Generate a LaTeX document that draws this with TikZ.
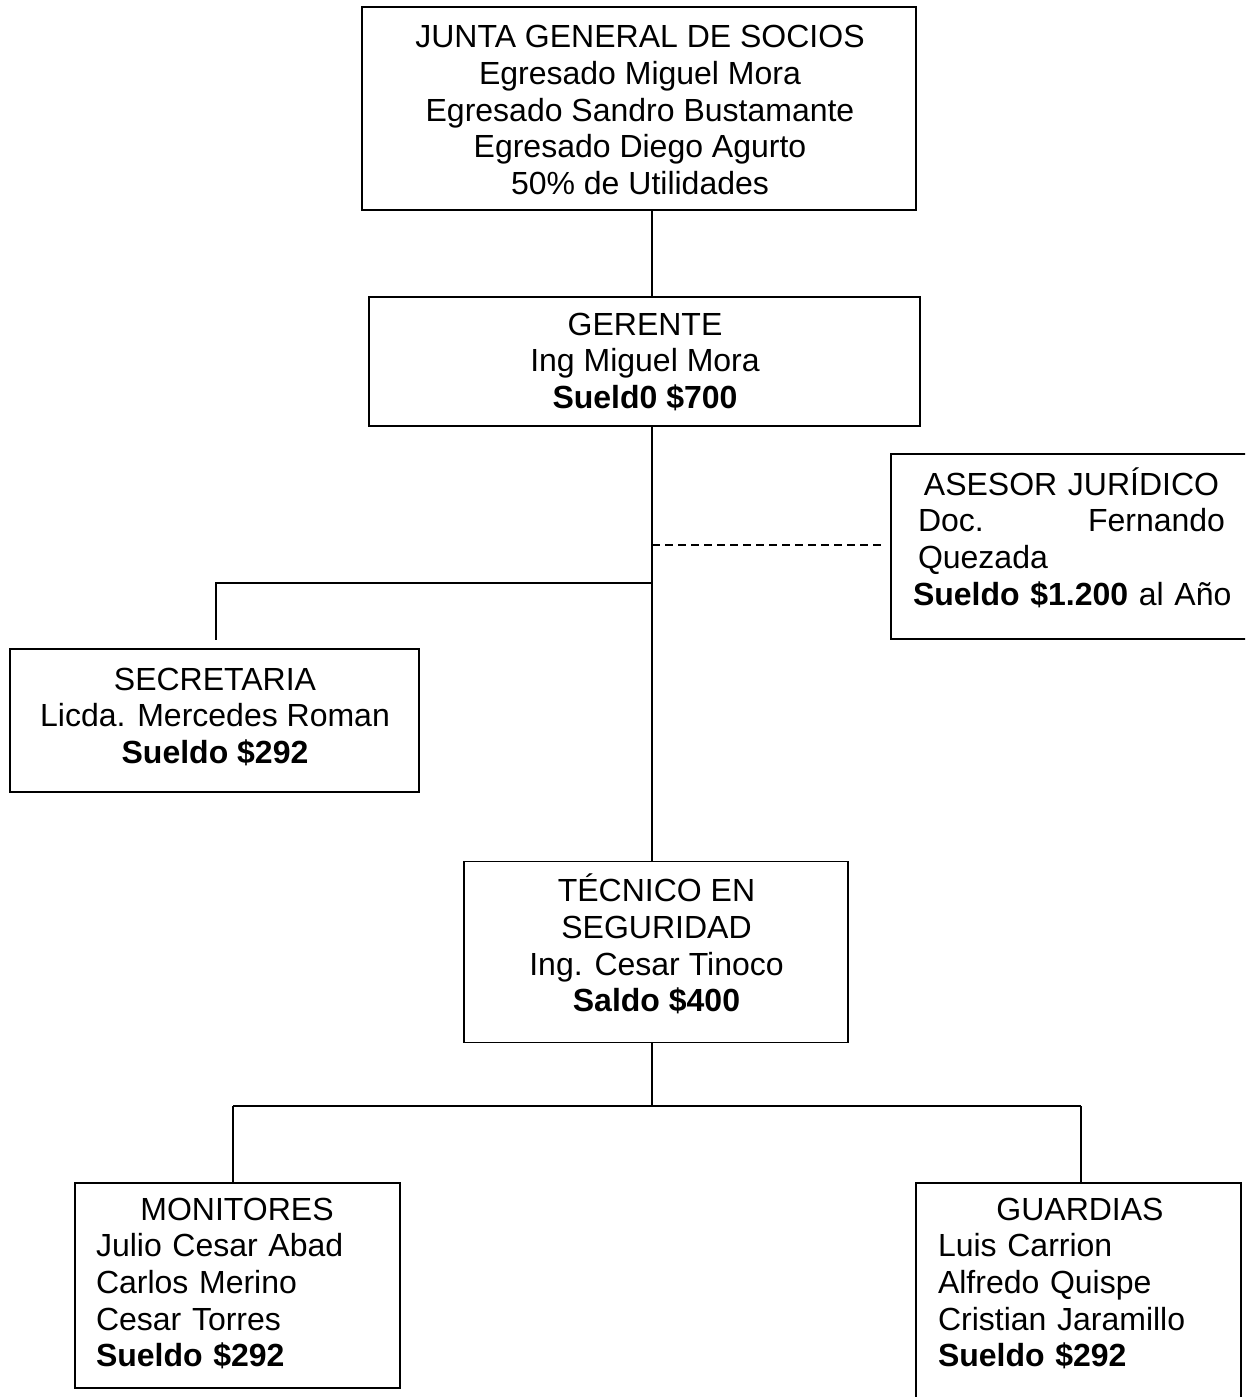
\documentclass[tikz,border=0pt]{standalone}
\usepackage{fontspec}
\setmainfont{Liberation Sans}
\usetikzlibrary{calc}
\begin{document}
\begin{tikzpicture}[x=1pt,y=-1pt,
  box/.style={draw, rectangle, inner sep=0pt, line width=1.8pt},
  txt/.style={inner sep=0pt, anchor=north, font=\fontsize{32}{36.6}\selectfont},
  ln/.style={line width=1.8pt},
  dln/.style={line width=1.8pt, dash pattern=on 8pt off 5pt}]
\useasboundingbox (0,0) rectangle (1245,1397);
\clip (0,0) rectangle (1245,1397);
% boxes
\node[box, minimum width=554pt, minimum height=203pt] (junta) at (639,108.5) {};
\node[box, minimum width=551pt, minimum height=129pt] (gerente) at (644.5,361.5) {};
\node[box, minimum width=369pt, minimum height=185pt] (asesor) at (1075.5,546.5) {};
\node[box, minimum width=409pt, minimum height=143pt] (secretaria) at (214.5,720.5) {};
\node[box, minimum width=384pt, minimum height=181pt] (tecnico) at (656,952) {};
\node[box, minimum width=325pt, minimum height=205pt] (monitores) at (237.5,1285.5) {};
\node[box, minimum width=325pt, minimum height=237pt] (guardias) at (1078.5,1301.5) {};
% texts
\node[txt, align=center] (tjunta) at (640,16.7) {\rule{0pt}{31pt}JUNTA GENERAL DE SOCIOS\\Egresado Miguel Mora\\Egresado Sandro Bustamante\\Egresado Diego Agurto\\50\% de Utilidades};
\node[txt, align=center] (tgerente) at (645,304) {\rule{0pt}{31pt}GERENTE\\Ing Miguel Mora\\\textbf{Sueld0 \$700}};
\node[txt, align=left, text width=307pt] (tasesor) at (1071.5,464) {\rule{0pt}{31pt}\makebox[307pt]{ASESOR JURÍDICO}\\Doc.\hfill Fernando\\Quezada\\\makebox[307pt][l]{\hspace*{-5pt}\textbf{Sueldo \$1.200} al Año}};
\node[txt, align=center] (tsecretaria) at (215,659) {\rule{0pt}{31pt}SECRETARIA\\Licda. Mercedes Roman\\\textbf{Sueldo \$292}};
\node[txt, align=center] (ttecnico) at (656.5,870.7) {\rule{0pt}{31pt}TÉCNICO EN\\SEGURIDAD\\Ing. Cesar Tinoco\\\textbf{Saldo \$400}};
\node[txt, align=left, text width=282pt] (tmonitores) at (237,1189) {\rule{0pt}{31pt}\makebox[282pt]{MONITORES}\\Julio Cesar Abad\\Carlos Merino\\Cesar Torres\\\textbf{Sueldo \$292}};
\node[txt, align=left, text width=284pt] (tguardias) at (1080,1189) {\rule{0pt}{31pt}\makebox[284pt]{GUARDIAS}\\Luis Carrion\\Alfredo Quispe\\Cristian Jaramillo\\\textbf{Sueldo \$292}};
% connector coordinates
\coordinate (sp) at (652,0);
\coordinate (jsec) at (652,583);
\coordinate (secend) at (216,640);
\coordinate (jase) at (652,545);
\coordinate (bus) at (652,1106);
\coordinate (bl) at (233,1106);
\coordinate (br) at (1081,1106);
% connectors
\draw[ln] (junta.south -| sp) -- (gerente.north -| sp);
\draw[ln] (gerente.south -| sp) -- (tecnico.north -| sp);
\draw[ln] (jsec) -| (secend);
\draw[dln] (jase) -- ($(asesor.west |- jase)+(-8,0)$);
\draw[ln] (tecnico.south -| sp) -- (bus);
\draw[ln] (bl) -- (br);
\draw[ln] (bl) -- (monitores.north -| bl);
\draw[ln] (br) -- (guardias.north -| br);
\end{tikzpicture}
\end{document}
